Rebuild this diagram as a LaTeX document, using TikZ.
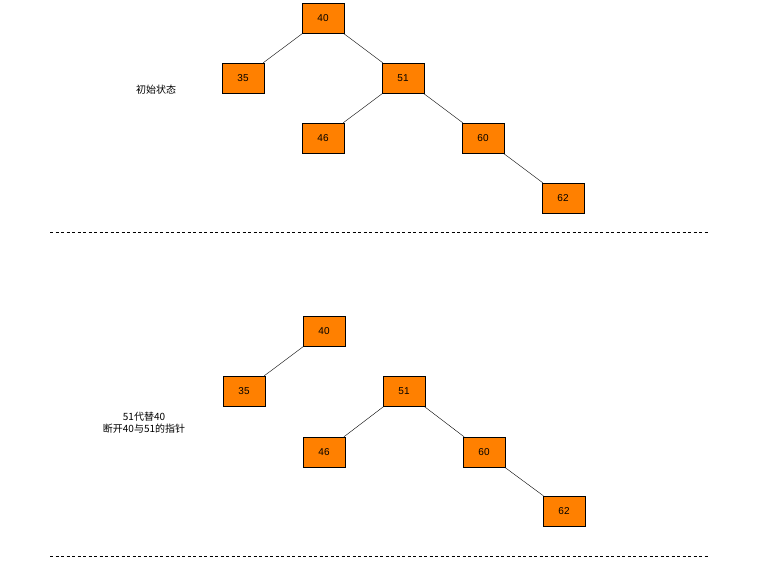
\documentclass[tikz,border=0pt]{standalone}
\usepackage{fontspec}
\setmainfont{Liberation Sans}
\newfontfamily\cjk{Noto Sans CJK SC}
\begin{document}
\begin{tikzpicture}[x=1pt,y=-1pt,
 nd/.style={draw=black,fill=orange!90!red,fill=orange,minimum width=42pt,minimum height=30pt,inner sep=0pt,font=\fontsize{10}{12}\selectfont},
 ln/.style={draw=black},
 sep/.style={draw=black,dashed,dash pattern=on 3pt off 2.5pt}]
\useasboundingbox[fill=white] (0,0) rectangle (782,561);
\definecolor{org}{RGB}{255,128,0}
\tikzset{nd/.append style={fill=org}}
\node[nd] (a40) at (323,18) {40};
\node[nd] (a35) at (243,78) {35};
\node[nd] (a51) at (403,78) {51};
\node[nd] (a46) at (323,138) {46};
\node[nd] (a60) at (483,138) {60};
\node[nd] (a62) at (563,198) {62};
\draw[ln] (a40) -- (a35); \draw[ln] (a40) -- (a51);
\draw[ln] (a51) -- (a46); \draw[ln] (a51) -- (a60);
\draw[ln] (a60) -- (a62);
\node[font=\cjk\fontsize{10}{12}\selectfont] (t1) at (156,90) {初始状态};
\coordinate (d1a) at (50,232); \coordinate (d1b) at (708,232);
\draw[sep] (d1a) -- (d1b);
\node[nd] (b40) at (324,331) {40};
\node[nd] (b35) at (244,391) {35};
\node[nd] (b51) at (404,391) {51};
\node[nd] (b46) at (324,452) {46};
\node[nd] (b60) at (484,452) {60};
\node[nd] (b62) at (564,511) {62};
\draw[ln] (b40) -- (b35);
\draw[ln] (b51) -- (b46); \draw[ln] (b51) -- (b60);
\draw[ln] (b60) -- (b62);
\node[font=\cjk\fontsize{10}{12}\selectfont,align=center] (t2) at (144,423) {51代替40\\断开40与51的指针};
\coordinate (d2a) at (50,556); \coordinate (d2b) at (708,556);
\draw[sep] (d2a) -- (d2b);
\end{tikzpicture}
\end{document}
